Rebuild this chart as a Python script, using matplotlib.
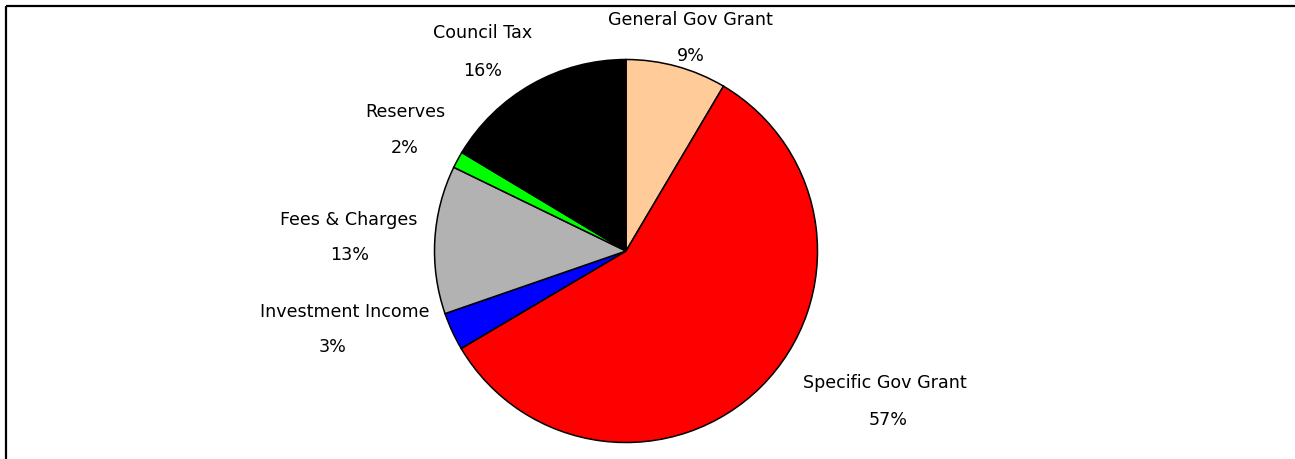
import matplotlib
matplotlib.use("Agg")
import matplotlib.pyplot as plt
from matplotlib.lines import Line2D

categories = ["General Gov Grant", "Specific Gov Grant", "Investment Income",
              "Fees & Charges", "Reserves", "Council Tax"]
values = [8.5, 58.0, 3.2, 12.5, 1.4, 16.4]
pct_labels = ["9%", "57%", "3%", "13%", "2%", "16%"]
colors = ["#FFCC99", "#FF0000", "#0000FF", "#B2B2B2", "#00FF00", "#000000"]

W, H = 1295, 460
fig = plt.figure(figsize=(W / 100, H / 100), dpi=100)
ax = fig.add_axes([0, 0, 1, 1])
ax.set_xlim(0, W)
ax.set_ylim(0, H)
ax.axis("off")

cx, cy, r = 626, H - 252, 191.5
ax.pie(values, colors=colors, startangle=90, counterclock=False,
       center=(cx, cy), radius=r, frame=False,
       wedgeprops=dict(edgecolor="black", linewidth=1.1))
ax.set_xlim(0, W)
ax.set_ylim(0, H)

# label positions (pixel coords, top-origin) for name and percent
name_pos = [(690, 20), (885, 383), (345, 312), (349, 220), (405, 112), (483, 33)]
pct_pos = [(691, 56), (888, 420), (333, 347), (350, 255), (405, 148), (483, 71)]

for name, pct, (nx, ny), (px, py) in zip(categories, pct_labels, name_pos, pct_pos):
    ax.text(nx, H - ny, name, ha="center", va="center", fontsize=12.6,
            family="DejaVu Sans", color="black")
    ax.text(px, H - py, pct, ha="center", va="center", fontsize=12.6,
            family="DejaVu Sans", color="black")

# chart frame (cropped at right and bottom): only top and left edges visible
fx = lambda px: px / W
fy = lambda py: 1 - py / H
fig.add_artist(Line2D([fx(6), 1.0], [fy(7), fy(7)], color="black",
                      linewidth=1.6, solid_capstyle="butt"))
fig.add_artist(Line2D([fx(6), fx(6)], [0.0, fy(7)], color="black",
                      linewidth=1.6, solid_capstyle="butt"))

fig.savefig("out.png", dpi=100)
